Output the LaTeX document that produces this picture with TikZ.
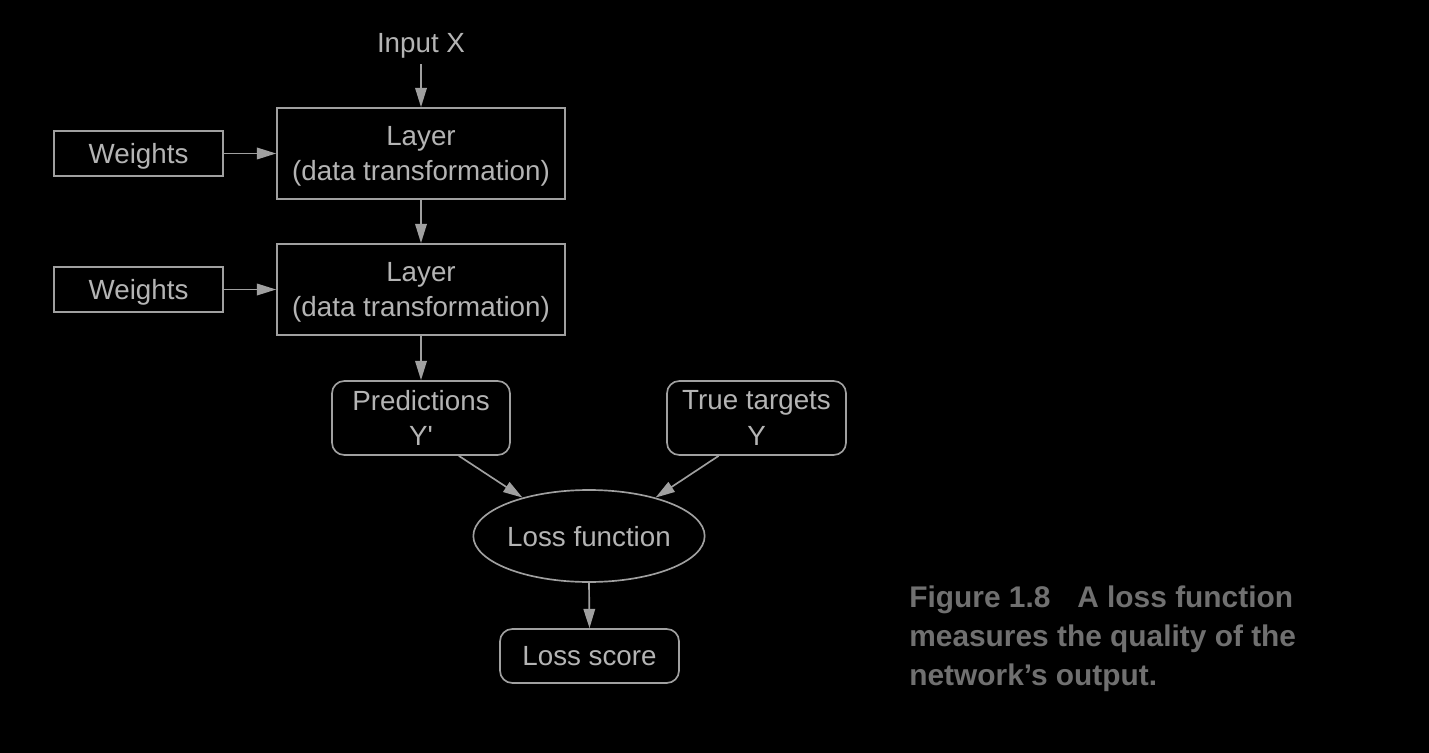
\documentclass[tikz,border=0pt]{standalone}
\usepackage{fontspec}
\setmainfont{Liberation Sans}[Ligatures=TeXOff]
\usetikzlibrary{arrows.meta,shapes.geometric}
\definecolor{linegray}{RGB}{160,160,160}
\definecolor{textgray}{RGB}{180,180,180}
\definecolor{capgray}{RGB}{112,112,112}
\begin{document}
\begin{tikzpicture}[x=0.02cm,y=-0.02cm,
  every node/.style={text=textgray, text depth=0pt, font=\fontsize{15.8pt}{20.4pt}\selectfont},
  plainbox/.style={draw=linegray, line width=0.95pt, inner sep=0pt, align=center},
  roundbox/.style={plainbox, rounded corners=7pt},
  conn/.style={draw=linegray, line width=0.95pt, -{Triangle[length=11pt,width=6.6pt]}},
  captext/.style={anchor=base west, inner sep=0pt, text=capgray, font=\fontsize{17pt}{22pt}\selectfont\bfseries}]
\fill[black] (0,0) rectangle (1429,753);
\useasboundingbox (0,0) rectangle (1429,753);

\node (in) at (421,43) {Input X};
\node[plainbox, minimum width=288*0.02cm, minimum height=91*0.02cm] (l1) at (421,153.5) {Layer\\(data transformation)};
\node[plainbox, minimum width=169*0.02cm, minimum height=45*0.02cm] (w1) at (138.5,153.5) {Weights};
\node[plainbox, minimum width=288*0.02cm, minimum height=91*0.02cm] (l2) at (421,289.5) {Layer\\(data transformation)};
\node[plainbox, minimum width=169*0.02cm, minimum height=45*0.02cm] (w2) at (138.5,289.5) {Weights};
\node[roundbox, minimum width=178*0.02cm, minimum height=74*0.02cm] (pred) at (421,418) {Predictions\\Y'};
\node[roundbox, minimum width=179*0.02cm, minimum height=74*0.02cm] (true) at (756.5,418) {True targets\\Y};
\node[draw=linegray, line width=0.95pt, ellipse, inner sep=0pt, minimum width=228*0.02cm, minimum height=92*0.02cm] (loss) at (589,536) {Loss function};
\node[roundbox, minimum width=179*0.02cm, minimum height=54*0.02cm] (score) at (589.5,656) {Loss score};

\draw[conn, shorten <=3pt] (in.south) -- (l1.north);
\draw[conn] (w1.east) -- (l1.west |- w1.east);
\draw[conn] (l1.south) -- (l2.north);
\draw[conn] (w2.east) -- (l2.west |- w2.east);
\draw[conn] (l2.south) -- (pred.north);
\draw[conn] (pred.-45) -- (loss.150);
\draw[conn] (true.-135) -- (loss.30);
\draw[conn] (loss.south) -- (score.north);

\node[captext] (c1) at (909,607) {Figure 1.8\hspace{0.9em}A loss function};
\node[captext] (c2) at (909,646) {measures the quality of the};
\node[captext] (c3) at (909,685) {network’s output.};
\end{tikzpicture}
\end{document}
